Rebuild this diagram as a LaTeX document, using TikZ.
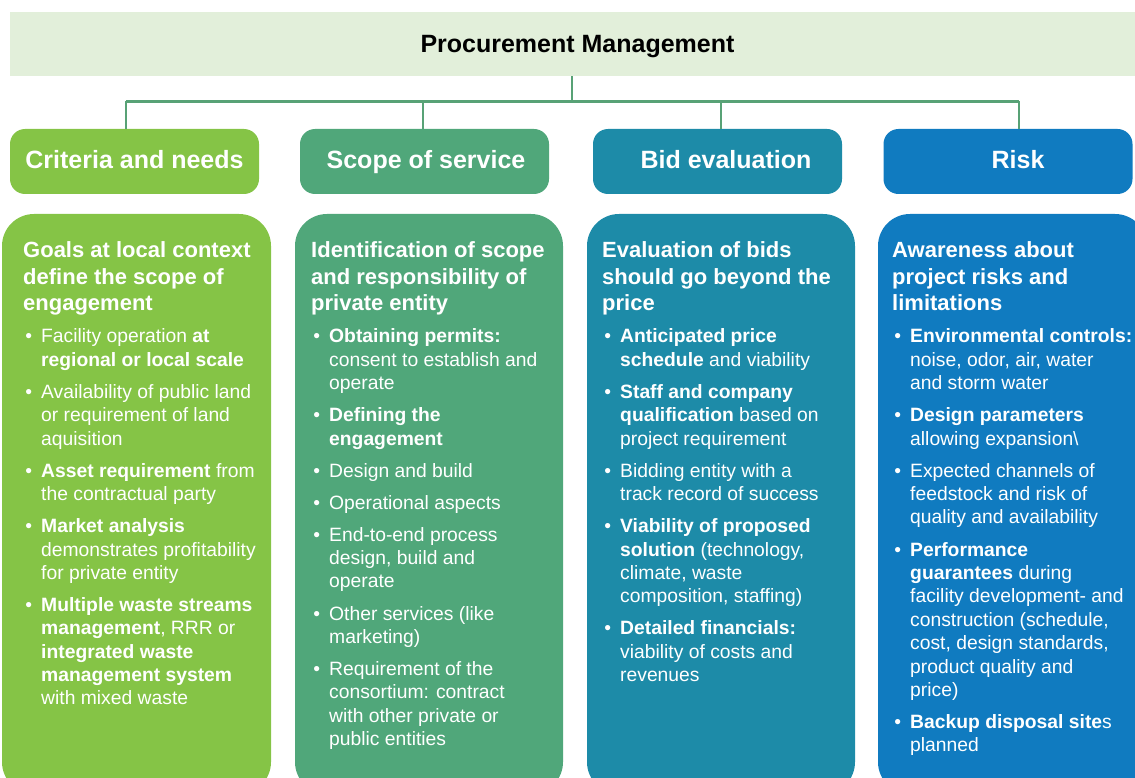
\documentclass[tikz,border=0pt]{standalone}
\usepackage{fontspec}
\setmainfont{Liberation Sans}
\definecolor{cTitle}{HTML}{E2EFDA}
\definecolor{cOne}{HTML}{85C446}
\definecolor{cTwo}{HTML}{50A77A}
\definecolor{cThree}{HTML}{1D8BA8}
\definecolor{cFour}{HTML}{107BC0}
\definecolor{cConn}{HTML}{58A276}
\newenvironment{blist}{\begin{list}{\textbullet}{\setlength{\leftmargin}{18pt}\setlength{\labelwidth}{9pt}\setlength{\labelsep}{9pt}\setlength{\itemsep}{8.6pt}\setlength{\parsep}{0pt}\setlength{\topsep}{8.6pt}\setlength{\partopsep}{0pt}\setlength{\itemindent}{0pt}}}{\end{list}}
\newcommand{\colbody}[2]{\parbox[t]{260pt}{\raggedright\parskip=0pt\fontsize{22}{26.5}\selectfont\bfseries #1\par\fontsize{19.3}{23.4}\selectfont\mdseries\begin{blist}#2\end{blist}}}
\tikzset{
  banner/.style={fill=cTitle, minimum width=1125pt, minimum height=64pt, inner sep=0pt, text height=18pt, text depth=0pt, font=\fontsize{25}{30}\selectfont\bfseries},
  hdr/.style={rounded corners=15pt, minimum width=249pt, minimum height=65pt, inner sep=0pt, text=white, text height=19pt, text depth=4pt, font=\fontsize{25}{30}\selectfont\bfseries},
  bodybox/.style={rounded corners=32pt, minimum width=269pt, minimum height=580pt, inner sep=0pt},
  conn/.style={draw=cConn, line width=2.5pt},
  content/.style={anchor=base west, inner sep=0pt, text=white}
}
\begin{document}
\begin{tikzpicture}[x=1pt,y=-1pt]
\useasboundingbox (0,0) rectangle (1135,778);
\clip (0,0) rectangle (1135,778);
% banner
\node[banner] (pm) at (572.5,44) {\hspace*{10pt}Procurement Management};
% headers
\node[hdr, fill=cOne] (h1) at (134.5,161.5) {Criteria and needs};
\node[hdr, fill=cTwo] (h2) at (424.5,161.5) {\hspace*{3pt}Scope of service};
\node[hdr, fill=cThree] (h3) at (717.5,161.5) {\hspace*{17pt}Bid evaluation};
\node[hdr, fill=cFour] (h4) at (1008,161.5) {\hspace*{20pt}Risk};
% connectors
\coordinate (bus) at (572,101.5);
\coordinate (d1) at (126,101.5);
\coordinate (d2) at (423,101.5);
\coordinate (d3) at (721,101.5);
\coordinate (d4) at (1019,101.5);
\draw[conn] (pm.south -| bus) -- (bus);
\draw[conn] (d1) -- (d4);
\draw[conn] (d1) -- (d1 |- h1.north);
\draw[conn] (d2) -- (d2 |- h2.north);
\draw[conn] (d3) -- (d3 |- h3.north);
\draw[conn] (d4) -- (d4 |- h4.north);
% body boxes
\node[bodybox, fill=cOne] (b1) at (136.5,504) {};
\node[bodybox, fill=cTwo, minimum width=268pt] (b2) at (429,504) {};
\node[bodybox, fill=cThree, minimum width=268pt] (b3) at (721,504) {};
\node[bodybox, fill=cFour] (b4) at (1012.5,504) {};
% contents
\node[content] (t1) at (23,258) {\colbody{Goals at local context\\define the scope of\\engagement}{%
\item Facility operation \textbf{at}\\\textbf{regional or local scale}
\item Availability of public land\\or requirement of land\\aquisition
\item \textbf{Asset requirement} from\\the contractual party
\item \textbf{Market analysis}\\demonstrates profitability\\for private entity
\item \textbf{Multiple waste streams}\\\textbf{management}, RRR or\\\textbf{integrated waste}\\\textbf{management system}\\with mixed waste}};
\node[content] (t2) at (311,258) {\colbody{Identification of scope\\and responsibility of\\private entity}{%
\item \textbf{Obtaining permits:}\\consent to establish and\\operate
\item \textbf{Defining the}\\\textbf{engagement}
\item Design and build
\item Operational aspects
\item End-to-end process\\design, build and\\operate
\item Other services (like\\marketing)
\item Requirement of the\\consortium: contract\\with other private or\\public entities}};
\node[content] (t3) at (602,258) {\colbody{Evaluation of bids\\should go beyond the\\price}{%
\item \textbf{Anticipated price}\\\textbf{schedule} and viability
\item \textbf{Staff and company}\\\textbf{qualification} based on\\project requirement
\item Bidding entity with a\\track record of success
\item \textbf{Viability of proposed}\\\textbf{solution} (technology,\\climate, waste\\composition, staffing)
\item \textbf{Detailed financials:}\\viability of costs and\\revenues}};
\node[content] (t4) at (892,258) {\colbody{Awareness about\\project risks and\\limitations}{%
\item \textbf{Environmental controls:}\\noise, odor, air, water\\and storm water
\item \textbf{Design parameters}\\allowing expansion\textbackslash
\item Expected channels of\\feedstock and risk of\\quality and availability
\item \textbf{Performance}\\\textbf{guarantees} during\\facility development- and\\construction (schedule,\\cost, design standards,\\product quality and\\price)
\item \textbf{Backup disposal site}s\\planned}};
\end{tikzpicture}
\end{document}
